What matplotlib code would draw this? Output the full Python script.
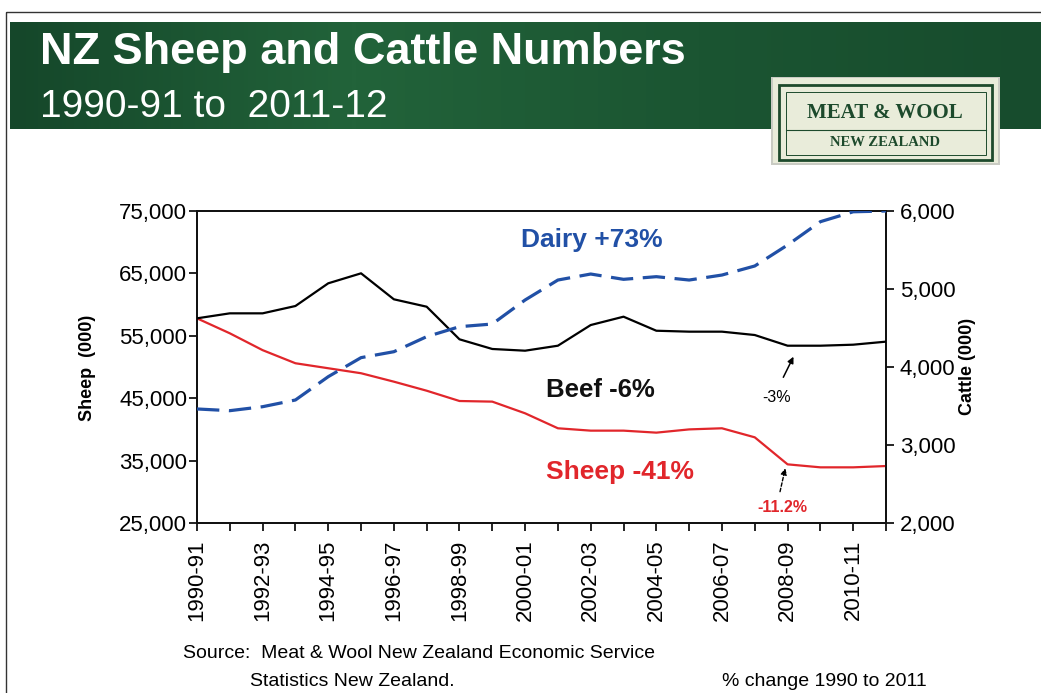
import numpy as np
import matplotlib.pyplot as plt
from matplotlib.patches import Rectangle
from matplotlib.colors import LinearSegmentedColormap

W, H = 1041, 693

# seasons 1990-91 .. 2011-12
seasons = ['1990-91', '1991-92', '1992-93', '1993-94', '1994-95', '1995-96',
           '1996-97', '1997-98', '1998-99', '1999-00', '2000-01', '2001-02',
           '2002-03', '2003-04', '2004-05', '2005-06', '2006-07', '2007-08',
           '2008-09', '2009-10', '2010-11', '2011-12']

# sheep numbers (000), left axis
sheep = [57800, 55400, 52700, 50600, 49800, 49000, 47650, 46200, 44550, 44450,
         42580, 40180, 39800, 39800, 39480, 40000, 40180, 38730, 34400, 33920,
         33920, 34130]

# beef cattle (000), right axis
beef = [4624, 4688, 4688, 4782, 5073, 5201, 4868, 4773, 4355, 4231, 4209,
        4273, 4538, 4645, 4465, 4453, 4453, 4410, 4273, 4273, 4286, 4325]

# dairy cattle (000), right axis
dairy = [3462, 3440, 3491, 3577, 3876, 4120, 4196, 4389, 4517, 4551, 4859,
         5115, 5192, 5124, 5158, 5115, 5179, 5295, 5564, 5863, 5990, 6000]

sheep_ticks = [25000, 35000, 45000, 55000, 65000, 75000]
cattle_ticks = [2000, 3000, 4000, 5000, 6000]

RED = '#e1262b'
BLUE = '#2150a6'
GREEN_TXT = '#1d4a2c'

plt.rcParams['font.family'] = ['Liberation Sans', 'DejaVu Sans']

fig = plt.figure(figsize=(W / 100, H / 100), dpi=100)

# background layer in pixel coordinates (y down)
bg = fig.add_axes([0, 0, 1, 1])
bg.set_xlim(0, W)
bg.set_ylim(H, 0)
bg.axis('off')

# slide frame
bg.add_patch(Rectangle((6, 12), W + 10, H, fill=False, ec='#333333', lw=1.0))

# green header band
cmap = LinearSegmentedColormap.from_list('band', ['#15472a', '#22633a', '#1b5532', '#174c2d'])
grad = np.linspace(0, 1, 256).reshape(1, -1)
bg.imshow(grad, cmap=cmap, extent=(10, W, 129, 22), aspect='auto', zorder=1)

bg.text(40, 64, 'NZ Sheep and Cattle Numbers', color='white', fontsize=32.5,
        fontweight='bold', va='baseline', ha='left', zorder=3)
bg.text(40, 117, '1990-91 to  2011-12', color='white', fontsize=28,
        va='baseline', ha='left', zorder=3)

# Meat & Wool NZ badge
bg.add_patch(Rectangle((771, 77), 229, 88, fc='#c9cbc3', ec='none', zorder=2))
bg.add_patch(Rectangle((773, 78), 225, 85, fc='#e9ecda', ec='none', zorder=3))
bg.add_patch(Rectangle((779, 85), 213, 75, fill=False, ec=GREEN_TXT, lw=2.0, zorder=4))
bg.add_patch(Rectangle((786, 92), 200, 63, fill=False, ec=GREEN_TXT, lw=0.7, zorder=4))
bg.plot([786, 986], [130, 130], color=GREEN_TXT, lw=0.8, zorder=4)
bg.text(885, 113, 'MEAT & WOOL', family='Liberation Serif', fontsize=15,
        fontweight='bold', color=GREEN_TXT, ha='center', va='center', zorder=5)
bg.text(885, 143, 'NEW ZEALAND', family='Liberation Serif', fontsize=10.5,
        fontweight='bold', color=GREEN_TXT, ha='center', va='center', zorder=5)

# axis titles
bg.text(88, 368, 'Sheep  (000)', rotation=90, fontsize=13, fontweight='bold',
        ha='center', va='center')
bg.text(968, 366, 'Cattle (000)', rotation=90, fontsize=13, fontweight='bold',
        ha='center', va='center')

# footnotes
bg.text(183, 653, 'Source:  Meat & Wool New Zealand Economic Service',
        fontsize=14, ha='left', va='center')
bg.text(250, 681, 'Statistics New Zealand.', fontsize=14, ha='left', va='center')
bg.text(722, 681, '% change 1990 to 2011', fontsize=14, ha='left', va='center')

# main chart
ax = fig.add_axes([197 / W, 1 - 523 / H, (886 - 197) / W, (523 - 211) / H])
x = np.arange(len(seasons))
ax.plot(x, sheep, color=RED, lw=1.6, zorder=3)
ax.set_xlim(0, len(seasons) - 1)
ax.set_ylim(25000, 75000)
ax.set_yticks(sheep_ticks)
ax.set_yticklabels([f'{v:,}' for v in sheep_ticks])
ax.set_xticks(x)
ax.set_xticklabels([s if i % 2 == 0 else '' for i, s in enumerate(seasons)],
                   rotation=90)
ax.tick_params(axis='y', direction='out', length=6, width=1.2, pad=1, labelsize=16)
ax.tick_params(axis='x', direction='out', length=6, width=1.2, pad=6, labelsize=16)

ax2 = ax.twinx()
ax2.plot(x, beef, color='black', lw=1.6, zorder=3)
ax2.plot(x, dairy, color=BLUE, lw=2.3, dashes=(7, 3), zorder=3)
ax2.set_ylim(2000, 6000)
ax2.set_yticks(cattle_ticks)
ax2.set_yticklabels([f'{v:,}' for v in cattle_ticks])
ax2.tick_params(axis='y', direction='out', length=6, width=1.2, pad=4, labelsize=16)

for a in (ax, ax2):
    for sp in a.spines.values():
        sp.set_linewidth(1.3)
        sp.set_color('#111111')

# series labels
ax2.text(12.04, 5630, 'Dairy +73%', color=BLUE, fontsize=19, fontweight='bold',
         ha='center', va='center')
ax2.text(12.3, 3705, 'Beef -6%', color='#111111', fontsize=18.5, fontweight='bold',
         ha='center', va='center')
ax.text(12.9, 33170, 'Sheep -41%', color=RED, fontsize=19, fontweight='bold',
        ha='center', va='center')

# change since 2008-09 callouts
ax2.text(17.67, 3615, '-3%', fontsize=11.5, ha='center', va='center')
ax2.annotate('', xy=(18.18, 4132), xytext=(17.87, 3868),
             arrowprops=dict(arrowstyle='-|>', color='black', lw=1.1,
                             mutation_scale=9, shrinkA=0, shrinkB=0))
ax.text(17.84, 27560, '-11.2%', fontsize=11.5, fontweight='bold', color=RED,
        ha='center', va='center')
ax.annotate('', xy=(17.93, 33770), xytext=(17.77, 30020),
            arrowprops=dict(arrowstyle='-|>', color='black', lw=1.0, ls=(0, (2.5, 1.5)),
                            mutation_scale=9, shrinkA=0, shrinkB=0))

fig.savefig('out.png', dpi=100)
